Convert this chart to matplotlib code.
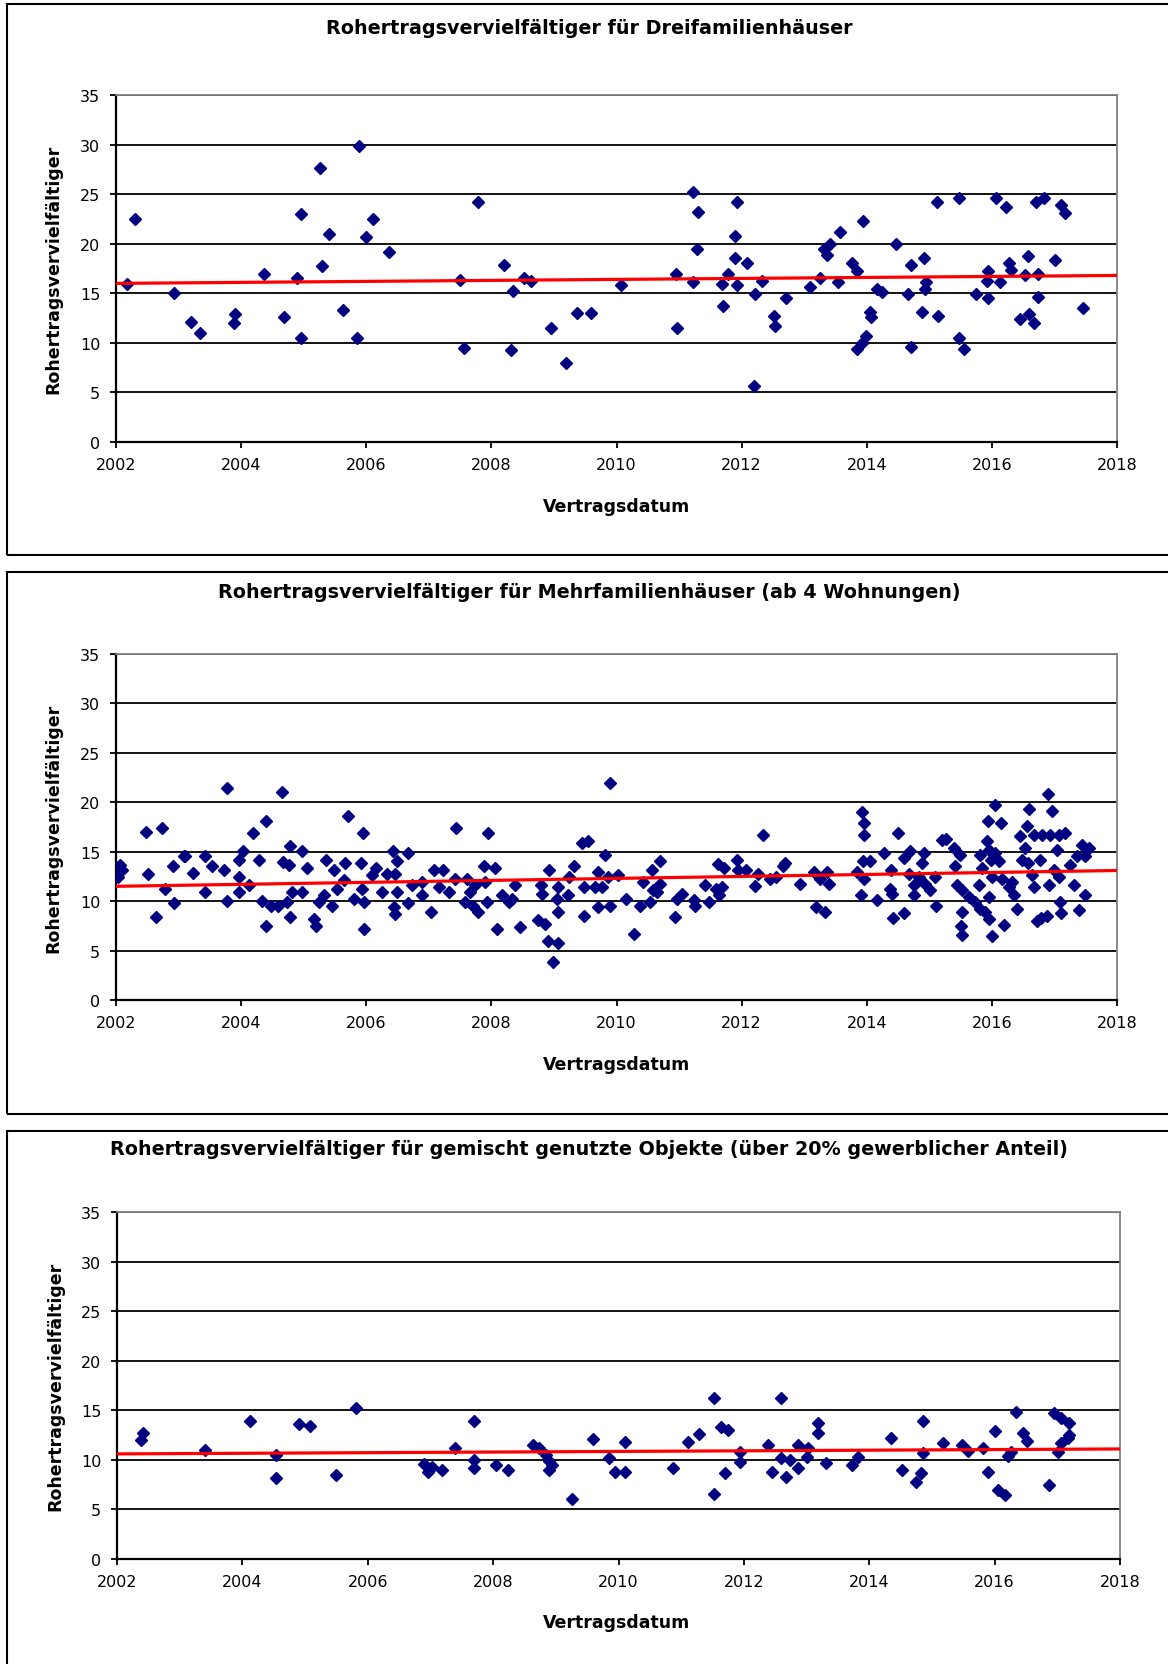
import matplotlib
matplotlib.use("Agg")
import matplotlib.pyplot as plt
from matplotlib.patches import Rectangle

# Daten: Vertragsdatum (Dezimaljahr) und Rohertragsvervielfältiger
dreifam_jahr = [
    2002.17, 2002.30, 2002.92, 2003.20, 2003.34, 2003.90, 2003.88, 2004.37, 2004.68, 2004.90,
    2004.96, 2004.96, 2005.26, 2005.29, 2005.41, 2005.63, 2005.88, 2005.86, 2006.00, 2006.10,
    2006.36, 2007.50, 2007.56, 2007.79, 2008.20, 2008.34, 2008.31, 2008.52, 2008.64, 2008.96,
    2009.20, 2009.37, 2009.60, 2010.07,
    2010.95, 2010.97, 2011.23, 2011.23, 2011.31, 2011.29, 2011.71, 2011.68, 2011.79, 2011.92,
    2011.90, 2011.90, 2011.93, 2012.08, 2012.21, 2012.32, 2012.19, 2012.52, 2012.53, 2012.71,
    2013.09, 2013.26, 2013.31, 2013.37, 2013.42, 2013.54, 2013.57, 2013.77, 2013.85, 2013.94,
    2013.85, 2013.92, 2013.99, 2014.05, 2014.07, 2014.16, 2014.24, 2014.47, 2014.66, 2014.71,
    2014.71, 2014.88, 2014.92, 2014.93, 2014.95, 2015.12, 2015.14, 2015.47, 2015.48, 2015.55,
    2015.75, 2015.94, 2015.92, 2015.94, 2016.06, 2016.13, 2016.23, 2016.28, 2016.31, 2016.45,
    2016.53, 2016.58, 2016.59, 2016.67, 2016.71, 2016.73, 2016.74, 2016.84, 2017.01, 2017.11,
    2017.17, 2017.45,
]
dreifam_wert = [
    15.9, 22.5, 15.0, 12.1, 11.0, 12.9, 12.0, 16.9, 12.6, 16.5,
    23.0, 10.5, 27.6, 17.8, 21.0, 13.3, 29.9, 10.5, 20.7, 22.5,
    19.2, 16.3, 9.5, 24.2, 17.9, 15.2, 9.3, 16.5, 16.2, 11.5,
    8.0, 13.0, 13.0, 15.8,
    16.9, 11.5, 25.2, 16.1, 23.2, 19.5, 13.7, 15.9, 16.9, 24.2,
    20.8, 18.6, 15.8, 18.1, 14.9, 16.2, 5.6, 12.7, 11.7, 14.5,
    15.6, 16.5, 19.5, 18.9, 20.0, 16.1, 21.2, 18.1, 17.2, 22.3,
    9.4, 10.0, 10.7, 13.1, 12.6, 15.4, 15.1, 20.0, 14.9, 17.9,
    9.6, 13.1, 18.6, 15.4, 16.1, 24.2, 12.7, 24.6, 10.5, 9.4,
    14.9, 17.2, 16.2, 14.5, 24.6, 16.1, 23.7, 18.1, 17.3, 12.4,
    16.8, 18.8, 12.9, 12.0, 24.2, 16.9, 14.6, 24.6, 18.4, 23.9,
    23.1, 13.5,
]
dreifam_trend = [16.0, 16.8]

mehrfam_jahr = [
    2002.06, 2002.09, 2002.03, 2002.48, 2002.74, 2002.51, 2002.64, 2002.78, 2002.91, 2002.92,
    2003.09, 2003.11, 2003.23, 2003.43, 2003.54, 2003.43, 2003.72, 2003.77, 2003.77, 2003.96,
    2004.03, 2003.97, 2003.97, 2004.13, 2004.19, 2004.40, 2004.28, 2004.33, 2004.39, 2004.48,
    2004.59, 2004.65, 2004.78, 2004.67, 2004.77, 2004.73, 2004.81, 2004.78, 2004.98, 2004.98,
    2005.06, 2005.24, 2005.32, 2005.16, 2005.20, 2005.35, 2005.49, 2005.46, 2005.53, 2005.66,
    2005.65, 2005.71, 2005.80, 2005.91, 2005.95, 2005.96, 2005.94, 2005.96,
    2006.15, 2006.09, 2006.33, 2006.42, 2006.49, 2006.66, 2006.46, 2006.25, 2006.49, 2006.44,
    2006.46, 2006.66, 2006.73, 2006.89, 2006.89, 2007.03, 2007.09, 2007.22, 2007.16, 2007.33,
    2007.44, 2007.42, 2007.61, 2007.66, 2007.74, 2007.58, 2007.71, 2007.79, 2007.88, 2007.95,
    2007.90, 2007.93, 2008.06, 2008.09, 2008.17, 2008.28, 2008.37, 2008.33, 2008.45, 2008.75,
    2008.79, 2008.81, 2008.92, 2008.86, 2008.91, 2009.07, 2008.98, 2009.07, 2009.05, 2009.06,
    2009.22, 2009.24, 2009.32, 2009.48, 2009.45, 2009.54, 2009.48, 2009.65, 2009.71, 2009.71,
    2009.82, 2009.77, 2009.89, 2009.89,
    2009.87, 2010.03, 2010.15, 2010.28, 2010.38, 2010.43, 2010.54, 2010.56, 2010.59, 2010.70,
    2010.70, 2010.65, 2010.93, 2010.97, 2011.05, 2011.24, 2011.26, 2011.41, 2011.48, 2011.59,
    2011.63, 2011.69, 2011.72, 2011.64, 2011.92, 2011.94, 2012.07, 2012.22, 2012.26, 2012.34,
    2012.45, 2012.55, 2012.66, 2012.69, 2012.93, 2013.16, 2013.19, 2013.25, 2013.33, 2013.36,
    2013.39, 2013.85, 2013.92, 2013.95, 2013.95, 2013.94, 2013.95, 2013.91,
    2014.05, 2014.16, 2014.27, 2014.50, 2014.39, 2014.37, 2014.41, 2014.42, 2014.60, 2014.60,
    2014.69, 2014.67, 2014.75, 2014.75, 2014.83, 2014.88, 2014.92, 2014.93, 2015.01, 2015.11,
    2015.09, 2015.20, 2015.26, 2015.39, 2015.49, 2015.41, 2015.44, 2015.53, 2015.53, 2015.51,
    2015.53, 2015.63, 2015.73, 2015.79, 2015.81, 2015.89, 2015.95, 2016.00, 2015.95, 2015.94,
    2016.05, 2016.15, 2015.84, 2015.92, 2015.96, 2016.05, 2016.12, 2015.99, 2016.00, 2015.81,
    2016.20, 2016.16, 2016.27, 2016.40, 2016.35, 2016.32, 2016.45, 2016.56, 2016.59, 2016.48,
    2016.53, 2016.57, 2016.64, 2016.67, 2016.72, 2016.79, 2016.88, 2016.90, 2016.96, 2016.67,
    2016.80, 2016.93, 2017.07, 2017.17, 2016.77, 2016.91, 2017.00, 2017.04, 2017.09, 2017.11,
    2017.07, 2017.25, 2017.32, 2017.40, 2017.44, 2017.55, 2017.49, 2017.49, 2017.36,
]
mehrfam_wert = [
    13.7, 13.2, 12.4, 17.0, 17.4, 12.7, 8.4, 11.2, 13.6, 9.8,
    14.6, 14.6, 12.8, 14.6, 13.6, 10.9, 13.1, 21.4, 10.0, 14.2,
    15.1, 12.4, 10.9, 11.6, 16.9, 18.1, 14.2, 10.0, 7.5, 9.5,
    9.5, 21.0, 15.6, 14.0, 13.7, 9.9, 10.9, 8.4, 15.1, 10.9,
    13.4, 9.9, 10.6, 8.2, 7.5, 14.2, 13.1, 9.5, 11.2, 13.9,
    12.1, 18.6, 10.2, 13.9, 16.9, 7.2, 11.2, 9.9,
    13.4, 12.6, 12.7, 15.1, 14.1, 14.9, 12.7, 10.9, 10.9, 9.4,
    8.7, 9.8, 11.6, 11.9, 10.6, 8.9, 13.1, 13.1, 11.4, 10.9,
    17.4, 12.2, 12.2, 10.9, 11.6, 9.9, 9.5, 8.9, 13.6, 16.9,
    11.9, 9.9, 13.4, 7.2, 10.6, 9.9, 11.6, 10.2, 7.4, 8.1,
    11.6, 10.7, 13.1, 7.7, 6.0, 5.8, 3.8, 11.4, 10.2, 8.9,
    10.6, 12.4, 13.6, 8.5, 15.9, 16.1, 11.4, 11.4, 12.9, 9.4,
    14.7, 11.4, 9.5, 22.0,
    12.4, 12.6, 10.2, 6.7, 9.5, 11.9, 9.9, 13.2, 11.1, 14.1,
    11.7, 10.9, 8.4, 10.2, 10.7, 10.1, 9.5, 11.6, 9.9, 11.2,
    13.8, 11.4, 13.4, 10.6, 14.2, 13.2, 13.1, 11.5, 12.7, 16.7,
    12.2, 12.4, 13.6, 13.9, 11.7, 12.9, 9.4, 12.2, 8.9, 12.9,
    11.7, 12.9, 19.0, 17.9, 16.7, 14.1, 12.2, 10.6,
    14.1, 10.1, 14.9, 16.9, 13.1, 11.2, 10.7, 8.3, 8.8, 14.4,
    15.1, 12.7, 11.6, 10.6, 12.4, 13.9, 14.9, 11.7, 11.1, 9.5,
    12.4, 16.2, 16.3, 15.4, 14.7, 13.6, 11.6, 11.1, 8.9, 7.5,
    6.6, 10.4, 9.9, 11.6, 9.2, 8.9, 8.2, 6.5, 10.4, 18.1,
    19.7, 17.9, 13.4, 16.1, 15.2, 14.9, 14.1, 14.2, 12.4, 14.7,
    7.6, 12.2, 11.4, 9.2, 10.6, 11.9, 16.6, 17.6, 19.3, 14.2,
    15.4, 13.9, 12.6, 11.4, 8.0, 8.3, 8.5, 20.8, 19.1, 16.7,
    16.7, 16.7, 16.7, 16.9, 14.2, 11.6, 13.2, 15.2, 9.9, 8.8,
    12.4, 13.7, 11.6, 9.1, 15.7, 15.4, 10.6, 14.6, 14.6,
]
mehrfam_trend = [11.5, 13.1]

gemischt_jahr = [
    2002.41, 2002.38, 2003.40, 2004.12, 2004.54, 2004.54, 2004.90, 2005.08, 2005.49, 2005.82,
    2006.89, 2006.96, 2007.02, 2007.19, 2007.39, 2007.69, 2007.69, 2007.69, 2008.04, 2008.23,
    2008.63, 2008.73, 2008.84, 2008.89, 2008.94, 2008.89, 2009.26, 2009.59, 2009.85, 2009.95,
    2010.10, 2010.11, 2010.87, 2011.11, 2011.28, 2011.53, 2011.53, 2011.63, 2011.74, 2011.70,
    2011.94, 2011.94, 2012.39, 2012.45, 2012.59, 2012.60, 2012.67, 2012.74, 2012.87, 2012.86,
    2013.03, 2013.00, 2013.18, 2013.18, 2013.31, 2013.72, 2013.82, 2014.35, 2014.52, 2014.85,
    2014.85, 2014.82, 2014.74, 2015.17, 2015.48, 2015.58, 2015.81, 2015.89, 2016.00, 2016.06,
    2016.17, 2016.21, 2016.26, 2016.34, 2016.45, 2016.51, 2016.86, 2016.95, 2017.06, 2017.18,
    2017.01, 2017.06, 2017.17, 2017.19,
]
gemischt_wert = [
    12.7, 12.0, 11.0, 13.9, 10.5, 8.2, 13.6, 13.4, 8.5, 15.2,
    9.6, 8.8, 9.3, 9.0, 11.2, 13.9, 10.0, 9.2, 9.5, 9.0,
    11.5, 11.2, 10.5, 9.9, 9.5, 9.0, 6.1, 12.1, 10.2, 8.8,
    11.8, 8.8, 9.2, 11.8, 12.6, 16.2, 6.6, 13.3, 13.0, 8.7,
    10.8, 9.8, 11.5, 8.8, 16.2, 10.2, 8.3, 10.0, 11.5, 9.2,
    11.2, 10.3, 13.7, 12.7, 9.7, 9.5, 10.3, 12.2, 9.0, 13.9,
    10.7, 8.7, 7.8, 11.7, 11.5, 10.9, 11.2, 8.8, 12.9, 7.0,
    6.5, 10.4, 10.8, 14.8, 12.7, 11.9, 7.5, 14.7, 14.2, 13.7,
    10.8, 11.7, 12.2, 12.5,
]
gemischt_trend = [10.6, 11.1]

titel = [
    "Rohertragsvervielfältiger für Dreifamilienhäuser",
    "Rohertragsvervielfältiger für Mehrfamilienhäuser (ab 4 Wohnungen)",
    "Rohertragsvervielfältiger für gemischt genutzte Objekte (über 20% gewerblicher Anteil)",
]
y_label = "Rohertragsvervielfältiger"
x_label = "Vertragsdatum"
jahre_ticks = list(range(2002, 2019, 2))
wert_ticks = list(range(0, 36, 5))

W, H = 1168, 1665
plt.rcParams['font.family'] = ['DejaVu Sans']

fig = plt.figure(figsize=(W / 100, H / 100), dpi=100)


def fx(px):
    return px / W


def fy(py):
    return 1 - py / H


# pixel layout of each panel: frame top/bottom, plot box, text positions
panels = [
    dict(frame=(5, 556), plot=(116, 96, 1117, 443), title_y=29, xlab_y=507, ylab_x=53),
    dict(frame=(573, 1115), plot=(116, 655, 1117, 1001), title_y=592, xlab_y=1065, ylab_x=53),
    dict(frame=(1132, 1690), plot=(117, 1213, 1120, 1560), title_y=1150, xlab_y=1623, ylab_x=55),
]
reihen = [
    (dreifam_jahr, dreifam_wert, dreifam_trend),
    (mehrfam_jahr, mehrfam_wert, mehrfam_trend),
    (gemischt_jahr, gemischt_wert, gemischt_trend),
]

for p, (jahr, wert, trend), t in zip(panels, reihen, titel):
    top, bottom = p['frame']
    fig.add_artist(Rectangle((fx(7), fy(bottom)), fx(W + 20 - 7), (bottom - top) / H,
                             transform=fig.transFigure, fill=False, ec='black', lw=1.5))

    x0, y0, x1, y1 = p['plot']
    ax = fig.add_axes([fx(x0), fy(y1), (x1 - x0) / W, (y1 - y0) / H])
    ax.set_xlim(2002, 2018)
    ax.set_ylim(0, 35)
    ax.set_xticks(jahre_ticks)
    ax.set_yticks(wert_ticks)
    ax.yaxis.grid(True, color='black', lw=1.3)
    ax.set_axisbelow(True)
    for s in ['left', 'bottom']:
        ax.spines[s].set_color('black')
        ax.spines[s].set_linewidth(1.6)
    for s in ['top', 'right']:
        ax.spines[s].set_color('#808080')
        ax.spines[s].set_linewidth(1.3)
    ax.tick_params(direction='out', length=4.3, width=1.3, labelsize=11.5)
    ax.tick_params(axis='x', pad=6.5)
    ax.tick_params(axis='y', pad=7)

    ax.plot(jahr, wert, ls='none', marker='D', ms=6.6, color='#000080', mec='#000080', zorder=3)
    ax.plot([2002, 2018], trend, color='#FF0000', lw=2.3, zorder=4)

    fig.text(fx(589), fy(p['title_y']), t, ha='center', va='center', fontsize=13.8, fontweight='bold')
    fig.text(fx(617), fy(p['xlab_y']), x_label, ha='center', va='center', fontsize=12.5, fontweight='bold')
    fig.text(fx(p['ylab_x']), fy((y0 + y1) / 2), y_label, ha='center', va='center',
             rotation=90, fontsize=12.5, fontweight='bold')

fig.savefig("out.png", dpi=100)
